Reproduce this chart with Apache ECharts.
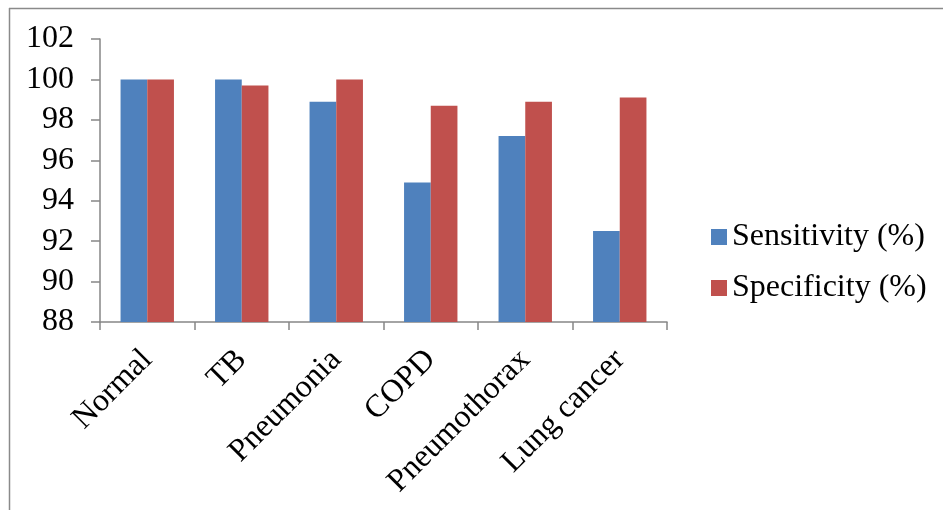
<!DOCTYPE html>
<html>
<head>
<meta charset="utf-8">
<script src="https://cdn.jsdelivr.net/npm/echarts@6/dist/echarts.min.js"></script>
<style>html,body{margin:0;padding:0;background:#fff}#c{width:943px;height:510px}</style>
</head>
<body>
<div id="c"></div>
<script>
const categories = ['Normal', 'TB', 'Pneumonia', 'COPD', 'Pneumothorax', 'Lung cancer'];
const sensitivity = [100, 100, 98.9, 94.9, 97.2, 92.5];
const specificity = [100, 99.7, 100, 98.7, 98.9, 99.1];
const seriesNames = ['Sensitivity (%)', 'Specificity (%)'];

const font = '"Liberation Serif", "Times New Roman", serif';
const chart = echarts.init(document.getElementById('c'));
chart.setOption({
  animation: false,
  textStyle: { fontFamily: font },
  graphic: [
    { type: 'line', shape: { x1: 9.5, y1: 8, x2: 9.5, y2: 510 }, style: { stroke: '#8a8a8a', lineWidth: 1.5 } },
    { type: 'line', shape: { x1: 9, y1: 8.5, x2: 943, y2: 8.5 }, style: { stroke: '#8a8a8a', lineWidth: 1.5 } }
  ],
  legend: {
    orient: 'vertical',
    left: 706,
    top: 215,
    itemWidth: 16,
    itemHeight: 16,
    itemGap: 17,
    icon: 'rect',
    textStyle: { fontFamily: font, fontSize: 32, color: '#000', lineHeight: 34 },
    data: seriesNames
  },
  grid: { left: 100, right: 276, top: 39, bottom: 188, containLabel: false },
  xAxis: {
    type: 'category',
    data: categories,
    axisLine: { lineStyle: { color: '#868686', width: 1.5 } },
    axisTick: { show: true, alignWithLabel: false, length: 8, lineStyle: { color: '#868686', width: 1.5 } },
    axisLabel: { rotate: 45, fontFamily: font, fontSize: 32, color: '#000', margin: 33, interval: 0 }
  },
  yAxis: {
    type: 'value',
    min: 88, max: 102, interval: 2,
    splitLine: { show: false },
    axisLine: { show: true, lineStyle: { color: '#868686', width: 1.5 } },
    axisTick: { show: true, length: 9, lineStyle: { color: '#868686', width: 1.5 } },
    axisLabel: { fontFamily: font, fontSize: 32, color: '#000', margin: 26 }
  },
  series: [
    { name: seriesNames[0], type: 'bar', data: sensitivity, itemStyle: { color: '#4F81BD' }, barGap: '0%', barCategoryGap: '43.5%' },
    { name: seriesNames[1], type: 'bar', data: specificity, itemStyle: { color: '#C0504D' }, barGap: '0%', barCategoryGap: '43.5%' }
  ]
});
</script>
</body>
</html>
